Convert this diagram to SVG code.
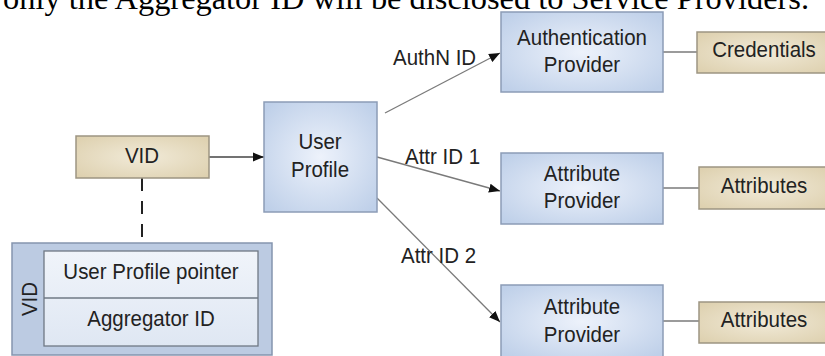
<svg xmlns="http://www.w3.org/2000/svg" width="825" height="356" viewBox="0 0 825 356">
<defs>
<radialGradient id="gBlue" cx="50%" cy="50%" r="65%">
<stop offset="0" stop-color="#edf2fb"/>
<stop offset="1" stop-color="#bfd0e9"/>
</radialGradient>
<radialGradient id="gTan" cx="50%" cy="50%" r="65%">
<stop offset="0" stop-color="#f1ead8"/>
<stop offset="1" stop-color="#ded1b0"/>
</radialGradient>
<linearGradient id="gInner" x1="0" y1="0" x2="0" y2="1">
<stop offset="0" stop-color="#f0f4fa"/>
<stop offset="1" stop-color="#dfe7f3"/>
</linearGradient>
<marker id="arr" markerUnits="userSpaceOnUse" markerWidth="12" markerHeight="10" refX="11" refY="5" orient="auto">
<path d="M0,0.5 L11,5 L0,9.5 z" fill="#111"/>
</marker>
<style>
.blue{fill:url(#gBlue);stroke:#8c9cb6;stroke-width:1.5}
.tan{fill:url(#gTan);stroke:#9d9582;stroke-width:1.5}
.t{font-family:"Liberation Sans",Arial,sans-serif;font-size:20.5px;fill:#222;text-anchor:middle}
.lbl{font-family:"Liberation Sans",Arial,sans-serif;font-size:20.5px;fill:#222}
.con{stroke:#7a7a7a;stroke-width:1.3;fill:none}
.title{font-family:"Liberation Serif","Times New Roman",serif;font-size:32.4px;fill:#000}
</style>
</defs>
<rect width="825" height="356" fill="#fff"/>
<text class="title" x="3" y="9">only the Aggregator ID will be disclosed to Service Providers.</text>

<g id="connectors">
<line x1="209" y1="157" x2="264" y2="157" stroke="#444" stroke-width="1.3" marker-end="url(#arr)"/>
<line class="con" x1="385" y1="113" x2="500" y2="53" marker-end="url(#arr)"/>
<line class="con" x1="377" y1="157" x2="500" y2="191" marker-end="url(#arr)"/>
<line class="con" x1="377" y1="198" x2="500" y2="322" marker-end="url(#arr)"/>
<line class="con" x1="663" y1="52" x2="697" y2="52"/>
<line class="con" x1="663" y1="188" x2="699" y2="188"/>
<line class="con" x1="663" y1="321" x2="699" y2="321"/>
<line x1="142" y1="178" x2="142" y2="243" stroke="#222" stroke-width="2" stroke-dasharray="13,10"/>
<text class="lbl" transform="matrix(1,0,0,1.12,393,65)">AuthN ID</text>
<text class="lbl" transform="matrix(1,0,0,1.12,405,164)">Attr ID 1</text>
<text class="lbl" transform="matrix(1,0,0,1.12,401,263)">Attr ID 2</text>
</g>

<g id="vid">
<rect class="tan" x="76" y="136" width="133" height="42"/>
<text class="t" transform="matrix(1,0,0,1.12,142,163)">VID</text>
</g>

<g id="user-profile">
<rect class="blue" x="264" y="102" width="113" height="110"/>
<text class="t" transform="matrix(1,0,0,1.12,320,149)">User</text>
<text class="t" transform="matrix(1,0,0,1.12,320,177)">Profile</text>
</g>

<g id="auth-provider">
<rect class="blue" x="501" y="12" width="162" height="80"/>
<text class="t" transform="matrix(1,0,0,1.12,582,45)">Authentication</text>
<text class="t" transform="matrix(1,0,0,1.12,582,72)">Provider</text>
</g>

<g id="credentials">
<rect class="tan" x="697" y="32" width="134" height="41"/>
<text class="t" transform="matrix(1,0,0,1.12,764,57)">Credentials</text>
</g>

<g id="attr-provider-1">
<rect class="blue" x="501" y="153" width="162" height="71"/>
<text class="t" transform="matrix(1,0,0,1.12,582,181)">Attribute</text>
<text class="t" transform="matrix(1,0,0,1.12,582,208)">Provider</text>
</g>

<g id="attributes-1">
<rect class="tan" x="699" y="167" width="132" height="42"/>
<text class="t" transform="matrix(1,0,0,1.12,764,193)">Attributes</text>
</g>

<g id="attr-provider-2">
<rect class="blue" x="501" y="285" width="162" height="73"/>
<text class="t" transform="matrix(1,0,0,1.12,582,314)">Attribute</text>
<text class="t" transform="matrix(1,0,0,1.12,582,342)">Provider</text>
</g>

<g id="attributes-2">
<rect class="tan" x="699" y="302" width="132" height="41"/>
<text class="t" transform="matrix(1,0,0,1.12,764,327)">Attributes</text>
</g>

<g id="vid-record">
<rect x="12" y="243" width="260" height="112" fill="#bccbe2" stroke="#8595ae" stroke-width="1.5"/>
<rect x="44" y="251" width="214" height="95" fill="url(#gInner)" stroke="#6f7884" stroke-width="1.3"/>
<line x1="44" y1="298" x2="258" y2="298" stroke="#6f7884" stroke-width="1.3"/>
<text class="t" transform="matrix(1,0,0,1.12,151,279)">User Profile pointer</text>
<text class="t" transform="matrix(1,0,0,1.12,151,326)">Aggregator ID</text>
<text class="t" transform="translate(37,299) rotate(-90) scale(1,1.12)">VID</text>
</g>
</svg>
